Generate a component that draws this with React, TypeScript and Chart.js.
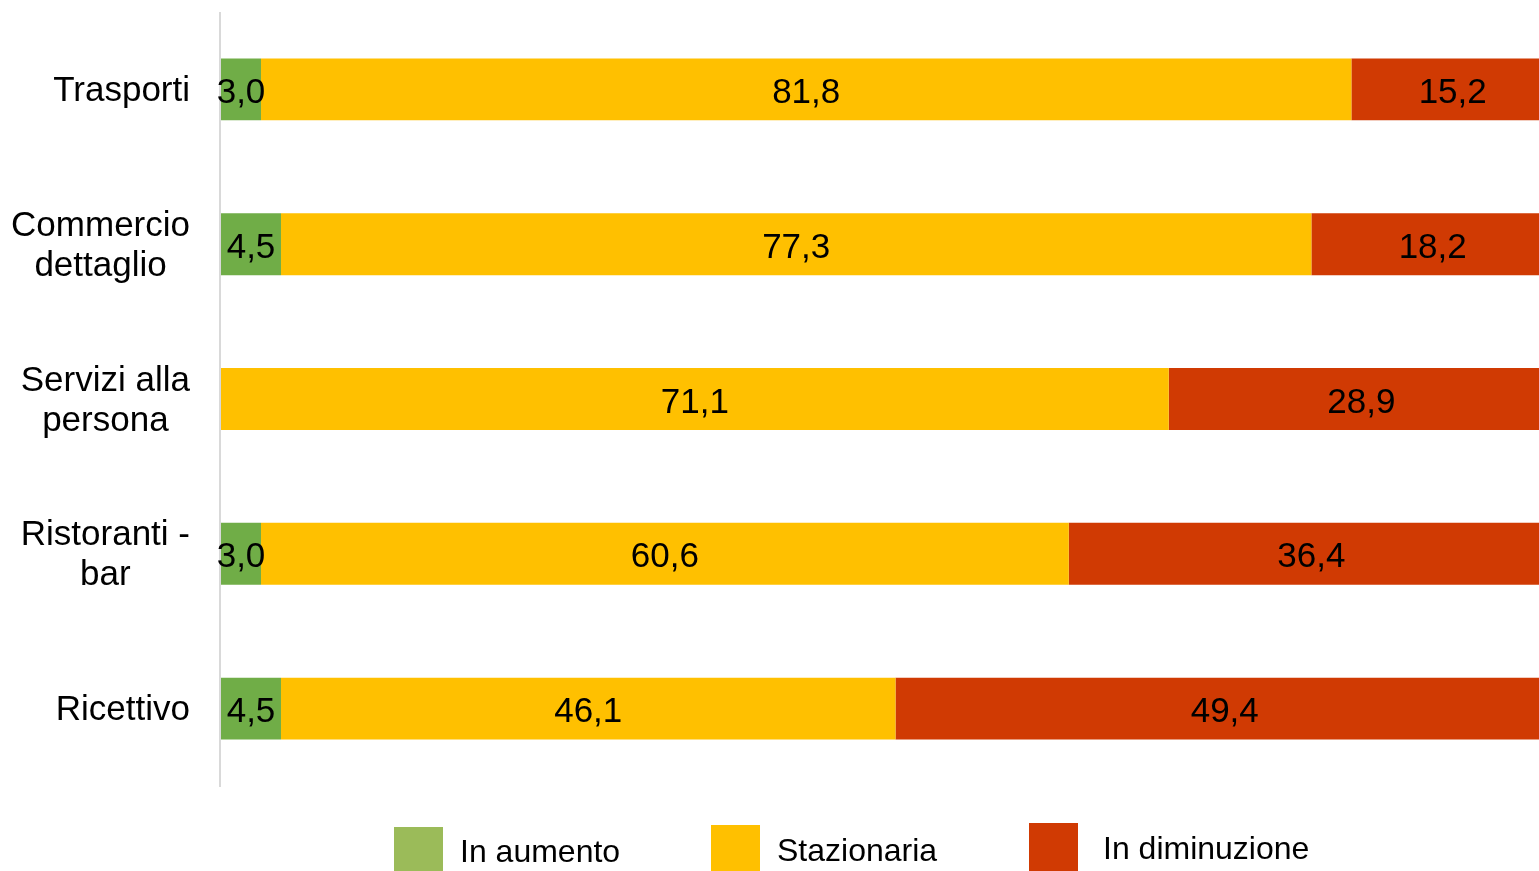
import React, { useEffect, useRef } from "react";
import { Chart, registerables } from "chart.js";

Chart.register(...registerables);

const categories: string[][] = [
  ["Trasporti"],
  ["Commercio", "dettaglio"],
  ["Servizi alla", "persona"],
  ["Ristoranti -", "bar"],
  ["Ricettivo"],
];
const inAumento = [3.0, 4.5, 0, 3.0, 4.5];
const stazionaria = [81.8, 77.3, 71.1, 60.6, 46.1];
const inDiminuzione = [15.2, 18.2, 28.9, 36.4, 49.4];
const seriesNames = ["In aumento", "Stazionaria", "In diminuzione"];
const barColors = ["#70AD47", "#FFC000", "#D03A03"];
const legendColors = ["#9BBB59", "#FFC000", "#D03A03"];

const FONT = "Arial, 'Liberation Sans', sans-serif";
const CANVAS_W = 1554;

const customDraw = {
  id: "customDraw",
  afterDatasetsDraw(chart: any) {
    const ctx = chart.ctx;
    const area = chart.chartArea;
    const yScale = chart.scales.y;
    ctx.save();
    // axis line
    ctx.strokeStyle = "#D9D9D9";
    ctx.lineWidth = 2;
    ctx.beginPath();
    ctx.moveTo(area.left - 1, area.top);
    ctx.lineTo(area.left - 1, area.bottom + 1);
    ctx.stroke();

    // data labels
    ctx.fillStyle = "#000";
    ctx.font = `35px ${FONT}`;
    ctx.textAlign = "center";
    ctx.textBaseline = "middle";
    chart.data.datasets.forEach((ds: any, di: number) => {
      const meta = chart.getDatasetMeta(di);
      meta.data.forEach((bar: any, i: number) => {
        const v = ds.data[i];
        if (!v) return;
        const cx = (bar.x + bar.base) / 2;
        ctx.fillText(v.toFixed(1).replace(".", ","), cx, bar.y + 4);
      });
    });

    // category labels
    ctx.font = `35px ${FONT}`;
    categories.forEach((lines, i) => {
      const cy = yScale.getPixelForValue(i);
      let maxW = 0;
      lines.forEach((l) => (maxW = Math.max(maxW, ctx.measureText(l).width)));
      const rightEdge = area.left - 31;
      const centerX = rightEdge - maxW / 2;
      const lh = 40;
      lines.forEach((l, li) => {
        const y = cy + 2 + (li - (lines.length - 1) / 2) * lh;
        ctx.textAlign = "center";
        ctx.fillText(l, centerX, y);
      });
    });

    // legend
    const boxX = [394, 711, 1029];
    const boxTop = [827, 825, 823];
    const textX = [460, 777, 1103];
    const textY = [853, 852, 850];
    ctx.font = `32px ${FONT}`;
    ctx.textAlign = "left";
    seriesNames.forEach((name, i) => {
      ctx.fillStyle = legendColors[i];
      ctx.fillRect(boxX[i], boxTop[i], 49, 871 - boxTop[i]);
      ctx.fillStyle = "#000";
      ctx.fillText(name, textX[i], textY[i]);
    });
    ctx.restore();
  },
};

export default function App() {
  const ref = useRef<HTMLCanvasElement | null>(null);
  useEffect(() => {
    if (!ref.current) return;
    const chart = new Chart(ref.current, {
      type: "bar",
      data: {
        labels: categories.map((c) => c.join(" ")),
        datasets: [inAumento, stazionaria, inDiminuzione].map((d, i) => ({
          label: seriesNames[i],
          data: d,
          backgroundColor: barColors[i],
          borderWidth: 0,
          categoryPercentage: 1,
          barPercentage: 0.4,
        })),
      },
      options: {
        indexAxis: "y",
        responsive: false,
        animation: false,
        layout: { padding: { left: 221, top: 12, right: 0, bottom: 85 } },
        plugins: { legend: { display: false }, tooltip: { enabled: false } },
        scales: {
          x: { stacked: true, display: false, min: 0, max: 100 },
          y: { stacked: true, display: false },
        },
      },
      plugins: [customDraw],
    });
    return () => chart.destroy();
  }, []);
  return (
    <div
      style={{
        position: "fixed",
        left: 0,
        top: 0,
        width: 1539,
        height: 871,
        overflow: "hidden",
        background: "#fff",
      }}
    >
      <canvas ref={ref} width={CANVAS_W} height={871} style={{ display: "block" }} />
    </div>
  );
}
